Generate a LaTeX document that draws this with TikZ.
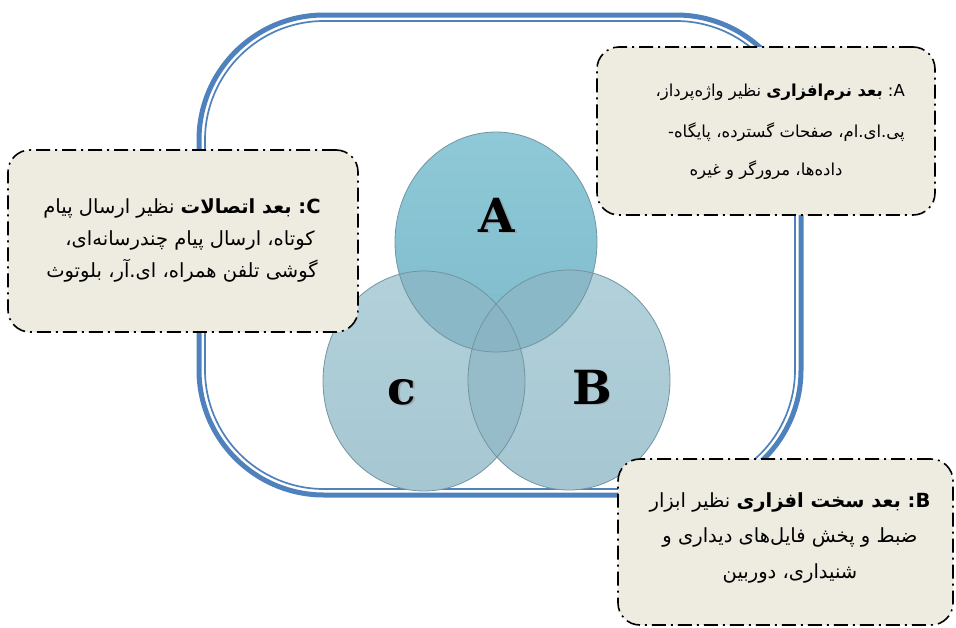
\documentclass[tikz,border=0pt]{standalone}
\usepackage{fontspec}
\usetikzlibrary{shapes.geometric}
\TeXXeTstate=1
\newfontfamily\fafont[Script=Arabic]{DejaVu Sans}
\newfontfamily\letterfont{DejaVu Serif}

\definecolor{frameblue}{HTML}{4F81BD}
\definecolor{notefill}{HTML}{EEECE1}
\definecolor{setAtop}{HTML}{8FC9D8}
\definecolor{setAbot}{HTML}{7EBBCB}
\definecolor{setBCtop}{HTML}{B2D1DB}
\definecolor{setBCbot}{HTML}{A6C6D1}
\definecolor{overAX}{HTML}{8BB8C7}
\definecolor{overBC}{HTML}{97BCC9}
\definecolor{overABC}{HTML}{8AB4C3}
\definecolor{rim}{HTML}{7295A2}

\begin{document}
\begin{tikzpicture}[x=1pt,y=-1pt,
  frameouter/.style={draw=frameblue, line width=5pt, rounded corners=125pt,
    minimum width=602pt, minimum height=480pt, inner sep=0pt},
  frameinner/.style={draw=frameblue, line width=1.7pt, rounded corners=119pt,
    minimum width=590pt, minimum height=468pt, inner sep=0pt},
  setdisc/.style={ellipse, minimum width=202pt, minimum height=220pt, inner sep=0pt},
  setrim/.style={draw=rim, line width=0.8pt},
  notebox/.style={draw=black, fill=notefill, line width=1.6pt, rounded corners=22pt,
    dash pattern=on 14pt off 5pt on 2pt off 5pt, inner sep=0pt},
  noteline/.style={inner sep=0pt},
  linesA/.style={noteline, font=\fafont\fontsize{16.5}{20}\selectfont},
  linesC/.style={noteline, font=\fafont\fontsize{19.5}{22}\selectfont},
  linesB/.style={noteline, font=\fafont\fontsize{19.5}{22}\selectfont},
  setlabel/.style={font=\letterfont\bfseries\fontsize{47}{47}\selectfont, inner sep=0pt},
  labelshadow/.style={setlabel, text=black!45, opacity=0.5}
]
\useasboundingbox (0,0) rectangle (956,627);

% double blue frame
\node[frameouter] (frameOut) at (500,255) {};
\node[frameinner] (frameIn) at (500,255) {};

% the three sets
\node[setdisc, top color=setBCtop, bottom color=setBCbot] (cC) at (424,381) {};
\node[setdisc, top color=setBCtop, bottom color=setBCbot] (cB) at (569,380) {};
\node[setdisc, top color=setAtop, bottom color=setAbot] (cA) at (496,242) {};

% overlaps
\begin{scope}
  \clip (cA.center) ellipse [x radius=101pt, y radius=110pt];
  \fill[overAX] (cC.center) ellipse [x radius=101pt, y radius=110pt];
  \fill[overAX] (cB.center) ellipse [x radius=101pt, y radius=110pt];
\end{scope}
\begin{scope}
  \clip (cB.center) ellipse [x radius=101pt, y radius=110pt];
  \fill[overBC] (cC.center) ellipse [x radius=101pt, y radius=110pt];
\end{scope}
\begin{scope}
  \clip (cA.center) ellipse [x radius=101pt, y radius=110pt];
  \clip (cB.center) ellipse [x radius=101pt, y radius=110pt];
  \fill[overABC] (cC.center) ellipse [x radius=101pt, y radius=110pt];
\end{scope}

% outlines
\draw[setrim] (cC.center) ellipse [x radius=101pt, y radius=110pt];
\draw[setrim] (cB.center) ellipse [x radius=101pt, y radius=110pt];
\draw[setrim] (cA.center) ellipse [x radius=101pt, y radius=110pt];

% set letters
\node[labelshadow] (lAs) at (498.5,216.5) {A};
\node[labelshadow] (lCs) at (403.5,393.5) {c};
\node[labelshadow] (lBs) at (593.5,388.5) {B};
\node[setlabel] (lA) at (497,215) {A};
\node[setlabel] (lC) at (402,392) {c};
\node[setlabel] (lB) at (592,387) {B};

% note boxes
\node[notebox, minimum width=338pt, minimum height=168pt] (boxA) at (766,131) {};
\node[notebox, minimum width=350pt, minimum height=182pt] (boxC) at (183,241) {};
\node[notebox, minimum width=335pt, minimum height=166pt] (boxB) at (785.5,542) {};

% box A text
\node[linesA, anchor=base east] (tA1) at (905,96)
  {\beginR\beginL A\endL: {\bfseries بعد نرم‌افزاری} نظیر واژه‌پرداز،\endR};
\node[linesA, anchor=base east] (tA2) at (905,137)
  {\beginR پی.ای.ام، صفحات گسترده، پایگاه-\endR};
\node[linesA, anchor=base] (tA3) at (766,175)
  {\beginR داده‌ها، مرورگر و غیره\endR};

% box C text
\node[linesC, anchor=base] (tC1) at (182,213)
  {\beginR{\bfseries\beginL C\endL: بعد اتصالات} نظیر ارسال پیام\endR};
\node[linesC, anchor=base] (tC2) at (190,245)
  {\beginR کوتاه، ارسال پیام چندرسانه‌ای،\endR};
\node[linesC, anchor=base] (tC3) at (182,277)
  {\beginR گوشی تلفن همراه، ای.آر، بلوتوث\endR};

% box B text
\node[linesB, anchor=base] (tB1) at (790,507)
  {\beginR{\bfseries\beginL B\endL: بعد سخت افزاری} نظیر ابزار\endR};
\node[linesB, anchor=base] (tB2) at (790,542)
  {\beginR ضبط و پخش فایل‌های دیداری و\endR};
\node[linesB, anchor=base] (tB3) at (790,578)
  {\beginR شنیداری، دوربین\endR};
\end{tikzpicture}
\end{document}
